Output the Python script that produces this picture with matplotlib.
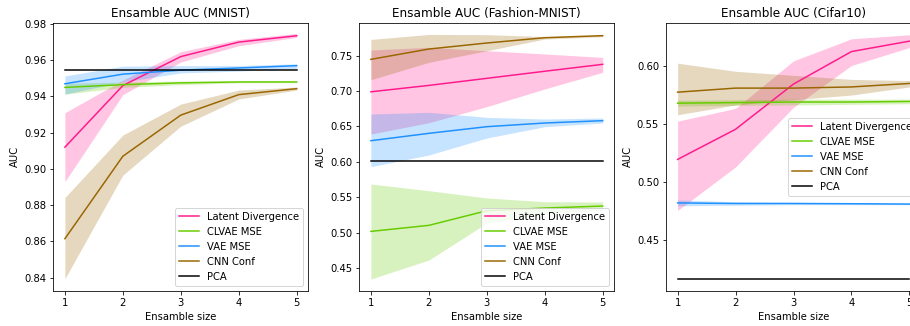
import numpy as np
import matplotlib
matplotlib.use("Agg")
import matplotlib.pyplot as plt

sizes = [1, 2, 3, 4, 5]
methods = ["Latent Divergence", "CLVAE MSE", "VAE MSE", "CNN Conf", "PCA"]
colors = ["#ff1a8c", "#66cc00", "#1e90ff", "#996600", "black"]
titles = ["Ensamble AUC (MNIST)", "Ensamble AUC (Fashion-MNIST)", "Ensamble AUC (Cifar10)"]

# MNIST: mean, lower, upper
mnist_ld = [0.912, 0.946, 0.962, 0.970, 0.9735]
mnist_ld_lo = [0.893, 0.941, 0.959, 0.968, 0.9726]
mnist_ld_hi = [0.931, 0.949, 0.9647, 0.9715, 0.9748]
mnist_clvae = [0.945, 0.9465, 0.9475, 0.948, 0.948]
mnist_clvae_lo = [0.9413, 0.945, 0.9465, 0.9475, 0.9476]
mnist_clvae_hi = [0.9472, 0.948, 0.9485, 0.9485, 0.9484]
mnist_vae = [0.947, 0.9523, 0.9545, 0.9557, 0.957]
mnist_vae_lo = [0.9413, 0.948, 0.953, 0.954, 0.9555]
mnist_vae_hi = [0.9513, 0.9567, 0.957, 0.957, 0.958]
mnist_cnn = [0.8615, 0.907, 0.9297, 0.941, 0.9443]
mnist_cnn_lo = [0.8394, 0.8966, 0.9236, 0.9386, 0.9435]
mnist_cnn_hi = [0.8842, 0.9187, 0.9358, 0.9435, 0.9452]
mnist_pca = [0.9545] * 5

# Fashion-MNIST
fmnist_ld = [0.699, 0.708, 0.718, 0.728, 0.7378]
fmnist_ld_lo = [0.6393, 0.6553, 0.678, 0.703, 0.7265]
fmnist_ld_hi = [0.758, 0.7618, 0.757, 0.7524, 0.7476]
fmnist_clvae = [0.5018, 0.5103, 0.531, 0.5348, 0.5376]
fmnist_clvae_lo = [0.4345, 0.4613, 0.5136, 0.5263, 0.532]
fmnist_clvae_hi = [0.5687, 0.5593, 0.549, 0.5437, 0.5433]
fmnist_vae = [0.6299, 0.6403, 0.6497, 0.6549, 0.6582]
fmnist_vae_lo = [0.5932, 0.6097, 0.6337, 0.6497, 0.6549]
fmnist_vae_hi = [0.6676, 0.670, 0.6629, 0.6605, 0.6619]
fmnist_cnn = [0.7448, 0.7594, 0.7679, 0.7754, 0.7783]
fmnist_cnn_lo = [0.716, 0.7406, 0.757, 0.7735, 0.7768]
fmnist_cnn_hi = [0.773, 0.780, 0.7797, 0.777, 0.779]
fmnist_pca = [0.6007] * 5

# Cifar10
cifar_ld = [0.5195, 0.5455, 0.5845, 0.6125, 0.6215]
cifar_ld_lo = [0.4755, 0.513, 0.5645, 0.6005, 0.616]
cifar_ld_hi = [0.5525, 0.5635, 0.6045, 0.6235, 0.627]
cifar_clvae = [0.568, 0.5685, 0.569, 0.569, 0.5695]
cifar_clvae_lo = [0.5655, 0.566, 0.5665, 0.567, 0.5675]
cifar_clvae_hi = [0.5705, 0.571, 0.5715, 0.5715, 0.5715]
cifar_vae = [0.482, 0.4815, 0.4815, 0.4813, 0.481]
cifar_vae_lo = [0.4795, 0.4800, 0.4805, 0.4805, 0.4805]
cifar_vae_hi = [0.4845, 0.4830, 0.4825, 0.4820, 0.4815]
cifar_cnn = [0.5775, 0.581, 0.581, 0.582, 0.585]
cifar_cnn_lo = [0.558, 0.5665, 0.571, 0.575, 0.582]
cifar_cnn_hi = [0.6025, 0.5955, 0.592, 0.5885, 0.5875]
cifar_pca = [0.4165] * 5

datasets = [
    [(mnist_ld, mnist_ld_lo, mnist_ld_hi), (mnist_clvae, mnist_clvae_lo, mnist_clvae_hi),
     (mnist_vae, mnist_vae_lo, mnist_vae_hi), (mnist_cnn, mnist_cnn_lo, mnist_cnn_hi),
     (mnist_pca, None, None)],
    [(fmnist_ld, fmnist_ld_lo, fmnist_ld_hi), (fmnist_clvae, fmnist_clvae_lo, fmnist_clvae_hi),
     (fmnist_vae, fmnist_vae_lo, fmnist_vae_hi), (fmnist_cnn, fmnist_cnn_lo, fmnist_cnn_hi),
     (fmnist_pca, None, None)],
    [(cifar_ld, cifar_ld_lo, cifar_ld_hi), (cifar_clvae, cifar_clvae_lo, cifar_clvae_hi),
     (cifar_vae, cifar_vae_lo, cifar_vae_hi), (cifar_cnn, cifar_cnn_lo, cifar_cnn_hi),
     (cifar_pca, None, None)],
]
ylims = [(0.8328, 0.9807), (0.418, 0.7966), (0.4063, 0.6374)]
legend_locs = ["lower right", "lower right", "center right"]

fig = plt.figure(figsize=(910 / 72, 326 / 72), dpi=72)
lefts = [53.3 / 910, 359.3 / 910, 666 / 910]
w = 255 / 910
b = (326 - 290.7) / 326
h = (290.7 - 22.7) / 326

for k in range(3):
    ax = fig.add_axes([lefts[k], b, w, h])
    for (m, lo, hi), name, c in zip(datasets[k], methods, colors):
        ax.plot(sizes, m, color=c, label=name)
        if lo is not None:
            ax.fill_between(sizes, lo, hi, color=c, alpha=0.25, linewidth=0)
    ax.set_title(titles[k])
    ax.set_xlabel("Ensamble size")
    ax.set_ylabel("AUC")
    ax.set_xticks(sizes)
    ax.set_xlim(0.8, 5.2)
    ax.set_ylim(*ylims[k])
    ax.legend(loc=legend_locs[k])

fig.savefig("out.png", dpi=72)
